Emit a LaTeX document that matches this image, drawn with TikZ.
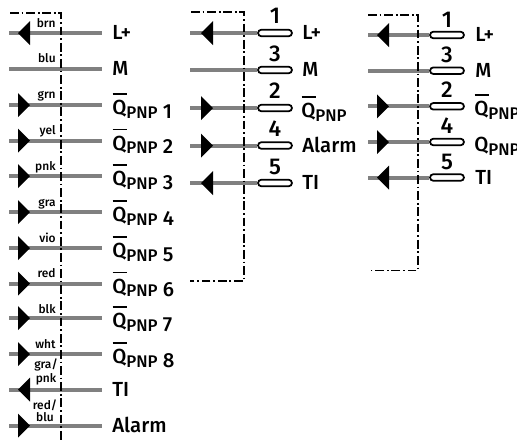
\documentclass[tikz,border=0pt]{standalone}
\usepackage{fontspec}
\setmainfont{Fira Sans Medium}
\def\headl(#1,#2){\fill (#1,#2) -- ++(12,-12) -- ++(0,24) -- cycle;}
\def\headr(#1,#2){\fill (#1,#2-12) -- ++(12,12) -- ++(-12,12) -- cycle;}
\def\qbar{\rlap{\hspace{0.2pt}\raisebox{11.4pt}{\rule{8.2pt}{0.9pt}}}Q}
\def\qsub#1{\raisebox{-1.7pt}{\qbar{\fontsize{9.6}{10}\selectfont\raisebox{-2pt}{PNP}}\raisebox{-2pt}{#1}}}
\tikzset{
	wire/.style={line width=4*0.567pt, color=black!50},
	frame/.style={line width=0.75pt, dash pattern=on 5pt off 1.6pt on 1pt off 1.6pt},
	lab/.style={anchor=west, inner ysep=0pt, inner xsep=0.2cm, text height=7.6pt, text depth=0pt, font=\fontsize{11.6}{12}\selectfont},
	tag/.style={anchor=base east, inner sep=0pt, font=\fontsize{6.8}{7}\selectfont},
	tagtwo/.style={anchor=south, inner sep=0pt, align=center, font=\fontsize{6.8}{6.6}\selectfont},
	contact/.style={draw, line width=1pt, fill=white, rounded corners=3.2*0.567pt, minimum width=34*0.567pt, minimum height=6.5*0.567pt, inner sep=0pt},
	num/.style={anchor=base, inner sep=0pt, font=\fontsize{13}{14}\selectfont}
}
\begin{document}
\begin{tikzpicture}[x=0.02cm, y=-0.02cm]
	\clip (0, 0) rectangle (517, 441);
	
	%%%%% LEFT %%%%%
	\coordinate (aw1) at (9, 33);
	\coordinate (aw2) at (9, 69);
	\coordinate (aw3) at (9, 105);
	\coordinate (aw4) at (9, 140.5);
	\coordinate (aw5) at (9, 176);
	\coordinate (aw6) at (9, 212);
	\coordinate (aw7) at (9, 248);
	\coordinate (aw8) at (9, 283.5);
	\coordinate (aw9) at (9, 318);
	\coordinate (aw10) at (9, 354);
	\coordinate (aw11) at (9, 389.5);
	\coordinate (aw12) at (9, 425.5);
	\node[lab] (al1) at (102, 33) {L+};
	\node[lab] (al2) at (102, 69) {M};
	\node[lab] (al3) at (102, 105) {\qsub{ 1}};
	\node[lab] (al4) at (102, 140.5) {\qsub{ 2}};
	\node[lab] (al5) at (102, 176) {\qsub{ 3}};
	\node[lab] (al6) at (102, 212) {\qsub{ 4}};
	\node[lab] (al7) at (102, 248) {\qsub{ 5}};
	\node[lab] (al8) at (102, 283.5) {\qsub{ 6}};
	\node[lab] (al9) at (102, 318) {\qsub{ 7}};
	\node[lab] (al10) at (102, 354) {\qsub{ 8}};
	\node[lab] (al11) at (102, 389.5) {TI};
	\node[lab] (al12) at (102, 425.5) {Alarm};
	\draw[wire] (aw1) -- (al1);
	\draw[wire] (aw2) -- (al2);
	\draw[wire] (aw3) -- (al3);
	\draw[wire] (aw4) -- (al4);
	\draw[wire] (aw5) -- (al5);
	\draw[wire] (aw6) -- (al6);
	\draw[wire] (aw7) -- (al7);
	\draw[wire] (aw8) -- (al8);
	\draw[wire] (aw9) -- (al9);
	\draw[wire] (aw10) -- (al10);
	\draw[wire] (aw11) -- (al11);
	\draw[wire] (aw12) -- (al12);
	
	\draw[frame] (10, 13) -- (61, 13) -- (61, 441);
	
	\headl(18, 33);
	\headr(18, 105);
	\headr(18, 140.5);
	\headr(18, 176);
	\headr(18, 212);
	\headr(18, 248);
	\headr(18, 283.5);
	\headr(18, 318);
	\headr(18, 354);
	\headl(18, 389.5);
	\headr(18, 425.5);
	
	\node[tag] (at1) at (56, 27) {brn};
	\node[tag] (at2) at (56, 62) {blu};
	\node[tag] (at3) at (56, 98.5) {grn};
	\node[tag] (at4) at (56, 134) {yel};
	\node[tag] (at5) at (56, 170) {pnk};
	\node[tag] (at6) at (56, 206) {gra};
	\node[tag] (at7) at (56, 242) {vio};
	\node[tag] (at8) at (56, 277) {red};
	\node[tag] (at9) at (56, 313) {blk};
	\node[tag] (at10) at (56, 348) {wht};
	\node[tagtwo] (at11) at (46, 385) {gra/\\pnk};
	\node[tagtwo] (at12) at (45, 422) {red/\\blu};
	
	%%%%% MIDDLE %%%%%
	\coordinate (bw1) at (190, 33);
	\coordinate (bw2) at (190, 70);
	\coordinate (bw3) at (190, 108);
	\coordinate (bw4) at (190, 145.5);
	\coordinate (bw5) at (190, 183);
	\node[contact] (bc1) at (275, 33) {};
	\node[contact] (bc2) at (275, 70) {};
	\node[contact] (bc3) at (275, 108) {};
	\node[contact] (bc4) at (275, 145.5) {};
	\node[contact] (bc5) at (275, 183) {};
	\draw[wire] (bw1) -- (bc1);
	\draw[wire] (bw2) -- (bc2);
	\draw[wire] (bw3) -- (bc3);
	\draw[wire] (bw4) -- (bc4);
	\draw[wire] (bw5) -- (bc5);
	
	\draw[frame] (191, 12) -- (244, 12) -- (244, 281) -- (190, 281);
	
	\headl(201, 33);
	\headr(201, 108);
	\headr(201, 145.5);
	\headl(201, 183);
	
	\node[num] (bn1) at (275, 23) {1};
	\node[num] (bn2) at (275, 61) {3};
	\node[num] (bn3) at (275, 98) {2};
	\node[num] (bn4) at (275, 136) {4};
	\node[num] (bn5) at (275, 174.5) {5};
	\node[lab, inner xsep=0pt] (bl1) at (302, 33) {L+};
	\node[lab, inner xsep=0pt] (bl2) at (302, 70) {M};
	\node[lab, inner xsep=0pt] (bl3) at (301, 108) {\qsub{}};
	\node[lab, inner xsep=0pt] (bl4) at (302, 145.5) {Alarm};
	\node[lab, inner xsep=0pt] (bl5) at (302, 183) {TI};
	
	%%%%% RIGHT %%%%%
	\coordinate (cw1) at (368, 35);
	\coordinate (cw2) at (368, 70.7);
	\coordinate (cw3) at (368, 106.3);
	\coordinate (cw4) at (368, 142);
	\coordinate (cw5) at (368, 177.5);
	\node[contact] (cc1) at (447, 35) {};
	\node[contact] (cc2) at (447, 70.7) {};
	\node[contact] (cc3) at (447, 106.3) {};
	\node[contact] (cc4) at (447, 142) {};
	\node[contact] (cc5) at (447, 177.5) {};
	\draw[wire] (cw1) -- (cc1);
	\draw[wire] (cw2) -- (cc2);
	\draw[wire] (cw3) -- (cc3);
	\draw[wire] (cw4) -- (cc4);
	\draw[wire] (cw5) -- (cc5);
	
	\draw[frame] (368, 15) -- (418, 15) -- (418, 270.5) -- (368, 270.5);
	
	\headl(377, 35);
	\headr(377, 106.3);
	\headr(377, 142);
	\headl(377, 177.5);
	
	\node[num] (cn1) at (447, 27) {1};
	\node[num] (cn2) at (447, 62) {3};
	\node[num] (cn3) at (447, 97) {2};
	\node[num] (cn4) at (447, 133) {4};
	\node[num] (cn5) at (447, 169) {5};
	\node[lab, inner xsep=0pt] (cl1) at (475, 35) {L+};
	\node[lab, inner xsep=0pt] (cl2) at (475, 70.7) {M};
	\node[lab, inner xsep=0pt] (cl3) at (474, 106.3) {\qsub{}};
	\node[lab, inner xsep=0pt] (cl4) at (474, 142) {\raisebox{-1.7pt}{Q{\fontsize{9.6}{10}\selectfont\raisebox{-2pt}{PNP}}}};
	\node[lab, inner xsep=0pt] (cl5) at (475, 177.5) {TI};
\end{tikzpicture}
\end{document}
